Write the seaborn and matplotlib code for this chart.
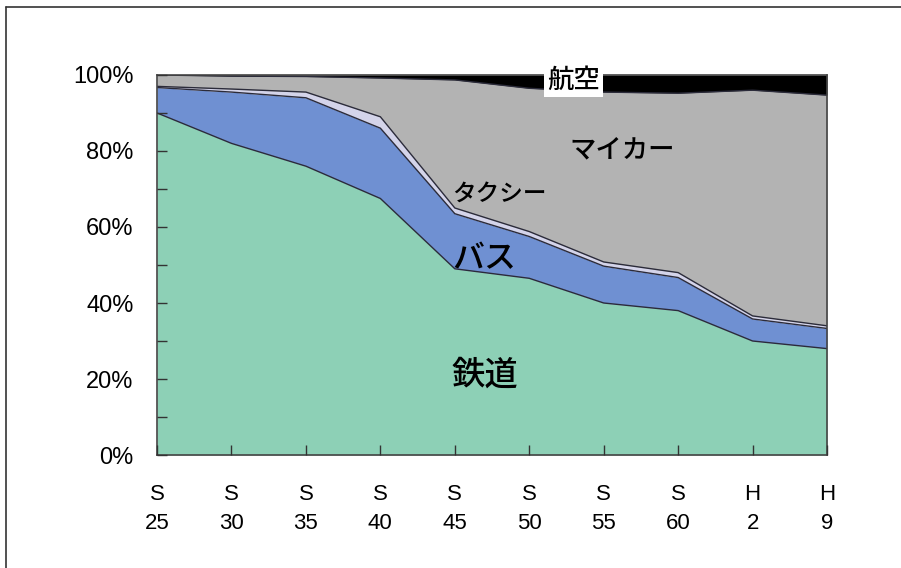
import matplotlib
matplotlib.use("Agg")
import matplotlib.pyplot as plt
import seaborn as sns
import numpy as np
import pandas as pd
from matplotlib.lines import Line2D

# Modal share of passenger transport (%), stacked from the bottom
periods = ["S\n25", "S\n30", "S\n35", "S\n40", "S\n45", "S\n50", "S\n55", "S\n60", "H\n2", "H\n9"]
rail = [90.0, 82.0, 76.0, 67.5, 49.0, 46.5, 40.0, 38.0, 30.0, 28.0]
bus = [6.7, 13.5, 18.0, 18.5, 14.5, 11.0, 9.7, 8.7, 5.8, 5.3]
taxi = [0.3, 0.8, 1.5, 3.0, 1.5, 1.3, 1.1, 1.3, 0.8, 0.7]
car = [3.0, 3.4, 4.1, 10.2, 33.7, 37.7, 44.7, 47.2, 59.4, 60.7]
air = [0.0, 0.3, 0.4, 0.8, 1.3, 3.5, 4.5, 4.8, 4.0, 5.3]

mode_names = ["鉄道", "バス", "タクシー", "マイカー", "航空"]
mode_colors = ["#8dd0b6", "#6f90d2", "#d4d4ea", "#b3b3b3", "#000000"]

sns.set_theme(style="white")
plt.rcParams["font.family"] = ["Liberation Sans", "Noto Sans CJK JP", "DejaVu Sans"]
plt.rcParams["text.color"] = "black"
plt.rcParams["xtick.color"] = "black"
plt.rcParams["ytick.color"] = "black"

df = pd.DataFrame({"x": np.arange(len(periods)), "鉄道": rail, "バス": bus,
                   "タクシー": taxi, "マイカー": car, "航空": air})

fig = plt.figure(figsize=(9.01, 5.68), dpi=100)
ax = fig.add_axes([0.1743, 0.1989, 0.7436, 0.6691])
ax.set_axisbelow(False)

ax.stackplot(df["x"], *[df[m] for m in mode_names], colors=mode_colors,
             linewidth=0)

# outline each band boundary
cum = np.zeros(len(df))
for m in mode_names[:-1]:
    cum = cum + df[m].to_numpy()
    sns.lineplot(x=df["x"], y=cum, ax=ax, color="#2b2b3a", linewidth=1.0,
                 legend=False)

ax.set_xlim(0, len(periods) - 1)
ax.set_ylim(0, 100)
ax.set_xlabel("")
ax.set_ylabel("")

ax.set_xticks(np.arange(len(periods)))
ax.set_xticklabels(periods, fontsize=16, linespacing=1.5)
ax.set_yticks(np.arange(0, 101, 20))
ax.set_yticklabels([f"{v}%" for v in range(0, 101, 20)], fontsize=17)
ax.set_yticks(np.arange(0, 101, 10), minor=True)
ax.tick_params(axis="y", which="both", direction="in", length=7, width=1,
               color="#333333", pad=17, left=True)
ax.tick_params(axis="x", which="major", direction="in", length=7, width=1,
               color="#333333", pad=21, bottom=True)
for s in ax.spines.values():
    s.set_color("#444444")
    s.set_linewidth(1.2)

# band labels
jp = dict(ha="center", va="center", fontweight="medium",
          family=["Noto Sans CJK JP", "DejaVu Sans"])
ax.text(4.4, 21, "鉄道", fontsize=24, **jp)
ax.text(4.4, 51.5, "バス", fontsize=23, **jp)
ax.text(4.6, 68.5, "タクシー", fontsize=17, **jp)
ax.text(6.25, 80, "マイカー", fontsize=19, **jp)
ax.text(5.6, 98.5, "航空", fontsize=19, **jp,
        bbox=dict(boxstyle="square,pad=0.12", facecolor="white",
                  edgecolor="none"))

# outer frame lines on the figure (left and top edges)
fig.add_artist(Line2D([6 / 901, 6 / 901], [0, 1 - 7 / 568],
                      transform=fig.transFigure, color="#333333", lw=1.2))
fig.add_artist(Line2D([6 / 901, 1], [1 - 7 / 568, 1 - 7 / 568],
                      transform=fig.transFigure, color="#333333", lw=1.2))

fig.savefig("out.png", dpi=100)
